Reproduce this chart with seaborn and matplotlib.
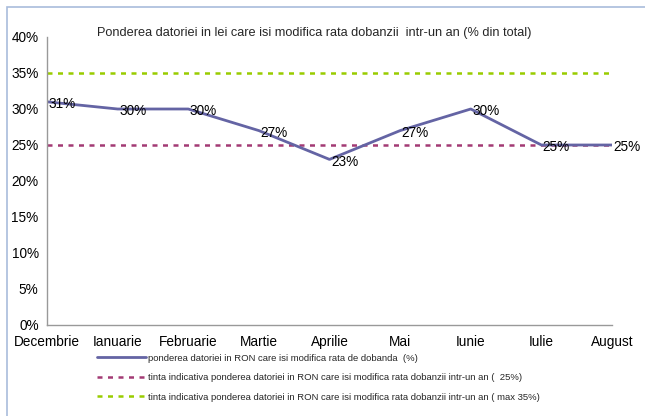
import matplotlib
matplotlib.use("Agg")
import matplotlib.pyplot as plt
import matplotlib.patches as mpatches
from matplotlib.ticker import FuncFormatter
import seaborn as sns
import pandas as pd

months = ["Decembrie", "Ianuarie", "Februarie", "Martie", "Aprilie",
          "Mai", "Iunie", "Iulie", "August"]
pondere = [31, 30, 30, 27, 23, 27, 30, 25, 25]
labels = ["31%", "30%", "30%", "27%", "23%", "27%", "30%", "25%", "25%"]
tinta_25 = [25, 25, 25, 25, 25, 25, 25, 25, 25]
tinta_35 = [35, 35, 35, 35, 35, 35, 35, 35, 35]
y_ticks = [0, 5, 10, 15, 20, 25, 30, 35, 40]

title = "Ponderea datoriei in lei care isi modifica rata dobanzii  intr-un an (% din total)"
leg_main = "ponderea datoriei in RON care isi modifica rata de dobanda  (%)"
leg_25 = "tinta indicativa ponderea datoriei in RON care isi modifica rata dobanzii intr-un an (  25%)"
leg_35 = "tinta indicativa ponderea datoriei in RON care isi modifica rata dobanzii intr-un an ( max 35%)"

df = pd.DataFrame({"pos": list(range(len(months))), "month": months,
                   "pondere": pondere, "t25": tinta_25, "t35": tinta_35})

sns.set_style("white")
plt.rcParams["font.family"] = ["Liberation Sans", "DejaVu Sans"]

fig = plt.figure(figsize=(6.45, 4.16), dpi=100)
ax = fig.add_axes([47 / 645, 1 - 325 / 416, (612 - 47) / 645, (325 - 37) / 416])

# outer frame
fig.patches.append(mpatches.Rectangle((7 / 645, -0.05), 1.1, 1 - 7 / 416 + 0.05,
                                      transform=fig.transFigure, fill=False,
                                      edgecolor="#A9BCDC", linewidth=1.2))

sns.lineplot(data=df, x="pos", y="t25", ax=ax, color="#A33A74", linewidth=1.8,
             linestyle=(0, (2, 2.2)), label=leg_25, legend=False)
sns.lineplot(data=df, x="pos", y="t35", ax=ax, color="#99CC00", linewidth=1.8,
             linestyle=(0, (2, 2.2)), label=leg_35, legend=False)
sns.lineplot(data=df, x="pos", y="pondere", ax=ax, color="#6464A4", linewidth=2,
             label=leg_main, legend=False)

for x, y, t in zip(df["pos"], df["pondere"], labels):
    ax.text(x + 0.02, y - 0.3, t, fontsize=9.8, ha="left", va="center", color="black")

ax.set_xlim(0, len(months) - 1)
ax.set_ylim(0, 40)
ax.set_yticks(y_ticks)
ax.yaxis.set_major_formatter(FuncFormatter(lambda v, p: f"{int(v)}%"))
ax.set_xticks(range(len(months)))
ax.set_xticklabels(months)
ax.set_xlabel("")
ax.set_ylabel("")
ax.tick_params(axis="both", labelsize=9.8, colors="black", length=4, width=0.8, direction="out")
ax.tick_params(axis="x", pad=3, color="#888888")
ax.tick_params(axis="y", pad=2, color="#888888")
for s in ["top", "right"]:
    ax.spines[s].set_visible(False)
for s in ["left", "bottom"]:
    ax.spines[s].set_color("#999999")
    ax.spines[s].set_linewidth(1)

fig.text(97 / 645, 1 - 33 / 416, title, fontsize=9.2, ha="left", va="center")

handles, lbls = ax.get_legend_handles_labels()
order = [lbls.index(leg_main), lbls.index(leg_25), lbls.index(leg_35)]
leg = fig.legend([handles[i] for i in order], [lbls[i] for i in order],
                 loc="upper left", bbox_to_anchor=(93 / 645, 1 - 350 / 416),
                 frameon=False, fontsize=6.8, handlelength=5.2, handletextpad=0.2,
                 labelspacing=1.1, borderaxespad=0)
for t in leg.get_texts():
    t.set_family(["Liberation Sans Narrow", "Liberation Sans", "DejaVu Sans"])

fig.savefig("out.png", dpi=100)
